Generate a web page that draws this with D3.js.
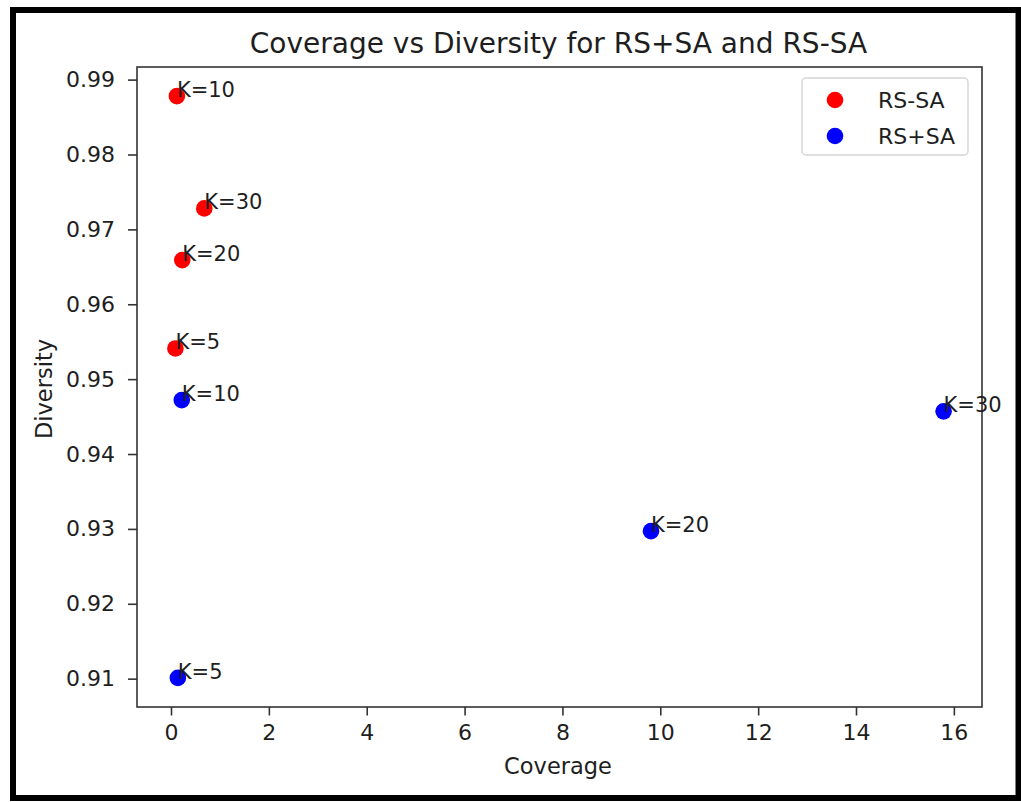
<!DOCTYPE html>
<html>
<head>
<meta charset="utf-8">
<script src="https://cdn.jsdelivr.net/npm/d3@7"></script>
<style>
  html, body { margin: 0; padding: 0; background: #fff; }
  svg { display: block; font-family: "DejaVu Sans", sans-serif; }
</style>
</head>
<body>
<svg id="chart" width="1021" height="802"></svg>
<script>
// ---- data ----
const seriesNames = ["RS-SA", "RS+SA"];
const seriesColors = ["#ff0000", "#0000ff"];
const kLabels = ["K=5", "K=10", "K=20", "K=30"];
const rsMinusCoverage = [0.09, 0.12, 0.23, 0.68];
const rsMinusDiversity = [0.9541, 0.9878, 0.9659, 0.9728];
const rsPlusCoverage = [0.14, 0.22, 9.81, 15.79];
const rsPlusDiversity = [0.9101, 0.9472, 0.9297, 0.9457];
const xTicks = [0, 2, 4, 6, 8, 10, 12, 14, 16];
const yTicks = [0.91, 0.92, 0.93, 0.94, 0.95, 0.96, 0.97, 0.98, 0.99];
const titleText = "Coverage vs Diversity for RS+SA and RS-SA";
const xLabelText = "Coverage";
const yLabelText = "Diversity";

// ---- layout ----
const svg = d3.select("#chart");
const plot = { left: 137, top: 67, right: 982, bottom: 707 };

const series = [
  { name: seriesNames[0], color: seriesColors[0], xs: rsMinusCoverage, ys: rsMinusDiversity },
  { name: seriesNames[1], color: seriesColors[1], xs: rsPlusCoverage, ys: rsPlusDiversity }
];

const allX = rsMinusCoverage.concat(rsPlusCoverage);
const allY = rsMinusDiversity.concat(rsPlusDiversity);
function padded(ext) { const m = (ext[1] - ext[0]) * 0.05; return [ext[0] - m, ext[1] + m]; }

const x = d3.scaleLinear().domain(padded(d3.extent(allX))).range([plot.left, plot.right]);
const y = d3.scaleLinear().domain(padded(d3.extent(allY))).range([plot.bottom, plot.top]);

const textColor = "#1e1e1e";
const tickFs = 22;
const labelFs = 22.5;
const annFs = 21;

// outer black frame
svg.append("rect")
  .attr("x", 13).attr("y", 10).attr("width", 1005.5).attr("height", 788)
  .attr("fill", "#fff").attr("stroke", "#000").attr("stroke-width", 6);

// axes
const xAxis = svg.append("g")
  .attr("transform", `translate(0,${plot.bottom})`)
  .call(d3.axisBottom(x).tickValues(xTicks).tickFormat(d3.format("d")).tickSizeOuter(0).tickSize(8.5).tickPadding(9));
const yAxis = svg.append("g")
  .attr("transform", `translate(${plot.left},0)`)
  .call(d3.axisLeft(y).tickValues(yTicks).tickFormat(d3.format(".2f")).tickSizeOuter(0).tickSize(9).tickPadding(13));
[xAxis, yAxis].forEach(g => {
  g.select(".domain").remove();
  g.selectAll(".tick line").attr("stroke", "#333").attr("stroke-width", 1.6);
  g.selectAll(".tick text").attr("fill", textColor).attr("font-size", tickFs)
    .attr("font-family", "DejaVu Sans, sans-serif");
});

// points
series.forEach(s => {
  svg.append("g").selectAll("circle")
    .data(s.xs.map((v, i) => ({ x: v, y: s.ys[i], k: kLabels[i] })))
    .join("circle")
    .attr("cx", d => x(d.x)).attr("cy", d => y(d.y)).attr("r", 8.3)
    .attr("fill", s.color);
});

// spines
svg.append("rect")
  .attr("x", plot.left).attr("y", plot.top)
  .attr("width", plot.right - plot.left).attr("height", plot.bottom - plot.top)
  .attr("fill", "none").attr("stroke", "#333").attr("stroke-width", 1.6);

// annotations
series.forEach(s => {
  svg.append("g").selectAll("text")
    .data(s.xs.map((v, i) => ({ x: v, y: s.ys[i], k: kLabels[i] })))
    .join("text")
    .attr("x", d => x(d.x)).attr("y", d => y(d.y) + 1)
    .attr("font-size", annFs).attr("fill", textColor)
    .text(d => d.k);
});

// title
svg.append("text")
  .attr("x", 558.5).attr("y", 53)
  .attr("text-anchor", "middle").attr("font-size", 28).attr("fill", textColor)
  .text(titleText);

// axis labels
svg.append("text")
  .attr("x", 558).attr("y", 774)
  .attr("text-anchor", "middle").attr("font-size", labelFs).attr("fill", textColor)
  .text(xLabelText);
svg.append("text")
  .attr("transform", `translate(52,${(plot.top + plot.bottom) / 2 + 2}) rotate(-90)`)
  .attr("text-anchor", "middle").attr("font-size", labelFs).attr("fill", textColor)
  .text(yLabelText);

// legend
const lg = svg.append("g");
lg.append("rect")
  .attr("x", 802).attr("y", 78).attr("width", 166).attr("height", 77)
  .attr("rx", 4).attr("fill", "#fff").attr("fill-opacity", 0.8)
  .attr("stroke", "#d5d5d5").attr("stroke-width", 1.4);
series.forEach((s, i) => {
  const cy = 100 + i * 36;
  lg.append("circle").attr("cx", 835).attr("cy", cy).attr("r", 8.3).attr("fill", s.color);
  lg.append("text").attr("x", 878).attr("y", cy).attr("dy", "0.35em")
    .attr("font-size", tickFs).attr("fill", textColor).text(s.name);
});
</script>
</body>
</html>
